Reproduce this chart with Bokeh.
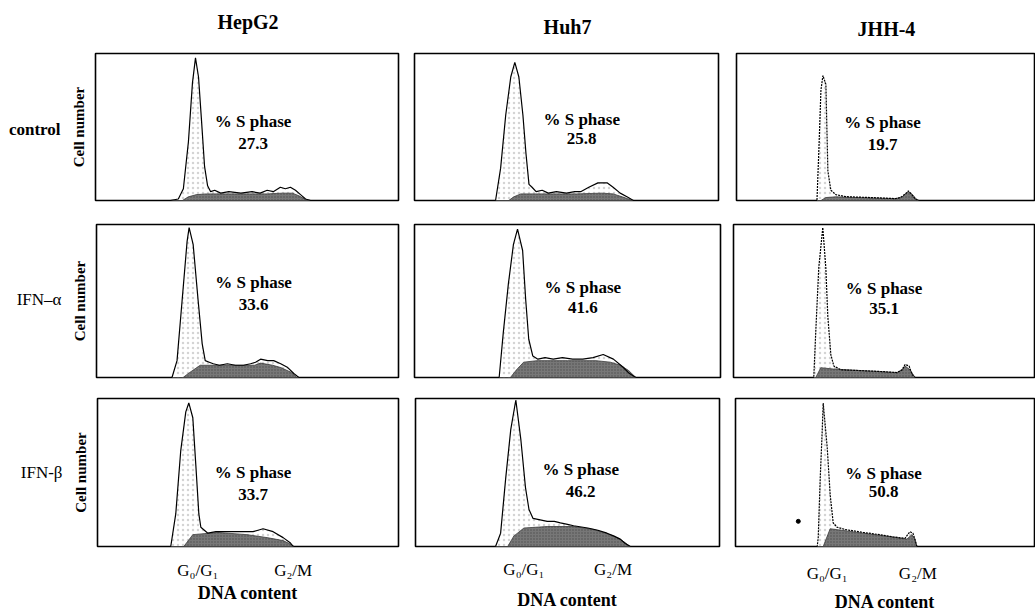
from bokeh.plotting import figure
from bokeh.layouts import row, column
from bokeh.models import FixedTicker, Range1d, LinearAxis, Label
from bokeh.embed import file_html
from bokeh.resources import INLINE

# ---------------- data ----------------
cell_lines = ["HepG2", "Huh7", "JHH-4"]
treatments = ["control", "IFN–α", "IFN-β"]
s_phase_pct = [[27.3, 25.8, 19.7],
               [33.6, 41.6, 35.1],
               [33.7, 46.2, 50.8]]
tick_labels = ["G₀/G₁", "G₂/M"]
g1_channel = [100, 107, 92]      # G0/G1 tick, per cell line
g2m_channel = [195, 195, 183]    # G2/M tick, per cell line
y_title = "Cell number"
x_title = "DNA content"
s_title = "% S phase"

# DNA content (channel) , cell number (% of panel max)
hepg2_control_total = [(0, 0), (74, 0), (82, 1), (87, 8), (92, 40), (96, 80), (99, 97), (102, 84), (105, 54),
                       (108, 23), (111, 10), (114, 6), (118, 7), (124, 5), (132, 6), (144, 5), (155, 6), (163, 5),
                       (170, 7), (176, 6), (183, 9), (188, 8), (193, 9), (198, 7), (203, 4), (208, 1), (213, 0), (300, 0)]
hepg2_control_sphase = [(86, 0), (92, 2.5), (100, 4), (110, 4.5), (140, 4.5), (170, 4.5), (185, 5), (195, 5),
                        (202, 3), (208, 0.5), (212, 0)]
huh7_control_total = [(0, 0), (80, 0), (85, 22), (90, 58), (95, 84), (99, 94), (103, 84), (107, 58), (110, 32),
                      (113, 11), (116, 9), (120, 6), (126, 7), (132, 5), (140, 6), (150, 5), (158, 6), (164, 6),
                      (172, 9), (181, 12), (190, 12), (196, 9), (203, 5), (211, 2), (216, 0), (300, 0)]
huh7_control_sphase = [(93, 0), (98, 2.5), (105, 4.5), (130, 4.5), (160, 4.5), (185, 5), (196, 4.5), (205, 2.5),
                       (215, 0)]
jhh4_control_total = [(0, 0), (81, 0), (83, 36), (85, 75), (87, 85), (90, 79), (91, 49), (92, 20), (95, 7),
                      (100, 4), (110, 2.6), (135, 2), (160, 1.3), (165, 2), (170, 4.5), (173, 6.5), (176, 4.5),
                      (180, 1), (183, 0), (300, 0)]
jhh4_control_sphase = [(85, 0), (90, 2), (100, 2.5), (130, 1.8), (160, 1.3), (166, 2), (170, 4.3), (173, 6),
                       (177, 4), (181, 1), (184, 0)]

hepg2_ifna_total = [(0, 0), (75, 0), (80, 11), (85, 50), (90, 89), (92, 98), (96, 87), (101, 50), (105, 22),
                    (108, 11), (112, 10), (116, 9), (122, 8), (130, 9), (138, 8), (146, 8), (153, 9), (158, 10),
                    (163, 12), (170, 11), (176, 11), (183, 9), (190, 6.5), (196, 2.6), (201, 0), (300, 0)]
hepg2_ifna_sphase = [(86, 0), (92, 3), (103, 8), (120, 8), (140, 8), (157, 8), (163, 9.4), (175, 8), (183, 6.5),
                     (193, 3.5), (199, 0)]
huh7_ifna_total = [(0, 0), (83, 0), (87, 29), (92, 61), (97, 87), (101, 97), (106, 83), (109, 51), (112, 25),
                   (116, 14), (121, 12), (128, 13), (136, 12), (145, 13), (155, 12), (165, 12), (175, 13),
                   (185, 15), (195, 12), (204, 7), (210, 3), (217, 0), (300, 0)]
huh7_ifna_sphase = [(94, 0), (100, 5), (107, 10), (120, 11), (150, 11), (178, 11), (192, 10), (202, 8),
                    (210, 4.5), (217, 0)]
jhh4_ifna_total = [(0, 0), (80, 0), (82, 30), (85, 72), (89, 98), (92, 72), (94, 40), (97, 15), (100, 7.5),
                   (107, 5), (120, 4.7), (134, 4.3), (150, 3.8), (163, 3.2), (168, 5), (171, 8.5), (175, 7.5),
                   (178, 2), (181, 0), (300, 0)]
jhh4_ifna_sphase = [(82, 0), (87, 6.4), (100, 5.5), (134, 4.3), (163, 3.2), (168, 5), (171, 7.5), (176, 5),
                    (181, 0)]

hepg2_ifnb_total = [(0, 0), (73, 0), (78, 22), (83, 65), (88, 91), (91, 97), (95, 87), (98, 55), (101, 22),
                    (103, 13), (110, 9), (118, 10), (128, 10), (138, 10), (148, 10), (155, 10), (160, 11),
                    (165, 12), (175, 10), (185, 6), (192, 2.6), (195, 0), (300, 0)]
hepg2_ifnb_sphase = [(86, 0), (95, 8), (120, 9.5), (149, 8), (169, 6), (185, 4), (194, 1), (196, 0)]
huh7_ifnb_total = [(0, 0), (79, 0), (84, 9), (89, 46), (94, 79), (99, 99), (104, 72), (108.5, 40), (112, 25),
                   (116, 19), (123, 18), (130, 17), (137, 17), (143, 16), (150, 15), (156, 14), (170, 12.5),
                   (180, 11), (189, 9), (196, 7), (202, 5), (207, 2), (212, 0), (300, 0)]
huh7_ifnb_sphase = [(91, 0), (97, 7), (107, 12.5), (130, 13.5), (156, 13.5), (176, 11.5), (192, 8), (202, 5),
                    (212, 0)]
jhh4_ifnb_total = [(0, 0), (82, 0), (83, 6), (85, 46), (87, 78), (88, 97), (92, 67), (95, 35), (98, 16),
                   (102, 13), (110, 11.5), (128, 9.5), (145, 8), (158, 6.5), (170, 5.5), (175, 10), (178, 9),
                   (180, 5), (182, 0), (300, 0)]
jhh4_ifnb_sphase = [(88, 0), (95, 12), (128, 9), (158, 6.4), (172, 5), (177, 8), (180, 5), (182, 0)]
jhh4_ifnb_debris = [(63, 17)]

totals = [[hepg2_control_total, huh7_control_total, jhh4_control_total],
          [hepg2_ifna_total, huh7_ifna_total, jhh4_ifna_total],
          [hepg2_ifnb_total, huh7_ifnb_total, jhh4_ifnb_total]]
sphases = [[hepg2_control_sphase, huh7_control_sphase, jhh4_control_sphase],
           [hepg2_ifna_sphase, huh7_ifna_sphase, jhh4_ifna_sphase],
           [hepg2_ifnb_sphase, huh7_ifnb_sphase, jhh4_ifnb_sphase]]

# ---------------- layout (pixels) ----------------
SERIF = "Liberation Serif"
COLS = [(0, 406), (406, 727), (727, 1035)]
ROWS = [(0, 215), (215, 387), (387, 614)]
FRAMES = [[(95, 398, 51, 200), (414, 718, 53, 207), (736, 1034, 52, 206)],
          [(96, 398, 223, 377), (414, 720, 223, 379), (733, 1034, 224, 380)],
          [(97, 398, 393, 548), (415, 719, 398, 548), (735, 1034, 396, 548)]]
# position of the "% S phase" text: (x channel, y of line 1, y of line 2)
S_TEXT_POS = [[(156, 54, 39), (165, 55, 42), (147, 53, 38)],
              [(156, 62, 48), (165, 59, 45.5), (150, 58, 45)],
              [(155, 50, 35), (163, 52, 37), (148.5, 49, 37)]]
TITLE_X = [151, 151, 151]
TITLE_STANDOFF = [21, 16, 14]
ROW_LABEL_Y = [48.3, 51.3, 50.0]
ROW_LABEL_STYLE = ["bold", "normal", "normal"]
TICK_STANDOFF = [14, 13, 17]
XLABEL_STANDOFF = [0, 8, 6]
X_RANGE = (0, 300)
Y_RANGE = (0, 100)


def bare_axis(ax):
    ax.axis_line_color = None
    ax.major_tick_line_color = None
    ax.minor_tick_line_color = None
    ax.major_tick_out = 0
    ax.major_tick_in = 0


def make_panel(r, c):
    c0, c1 = COLS[c]
    r0, r1 = ROWS[r]
    fl, fr, ft, fb = FRAMES[r][c]
    p = figure(width=c1 - c0, height=r1 - r0,
               x_range=Range1d(*X_RANGE), y_range=Range1d(*Y_RANGE),
               output_backend="svg", toolbar_location=None,
               x_axis_location="below" if r == 2 else None,
               y_axis_location="left" if c == 0 else None,
               min_border_left=fl - c0, min_border_right=c1 - fr,
               min_border_top=ft - r0, min_border_bottom=r1 - fb)
    p.grid.visible = False
    p.outline_line_color = "black"
    p.outline_line_width = 1.6
    p.background_fill_color = "white"
    p.border_fill_color = "white"

    total = totals[r][c]
    sph = sphases[r][c]
    tx = [v[0] for v in total]
    ty = [v[1] for v in total]
    sx = [v[0] for v in sph]
    sy = [v[1] for v in sph]
    dashed = (c == 2)

    p.patch(tx, ty, fill_color="white", line_color=None,
            hatch_pattern="dot", hatch_color="#a0a0a0", hatch_scale=5, hatch_weight=1, hatch_alpha=0.45)
    p.patch(sx, sy, fill_color="#777777", line_color="#3c3c3c", line_width=0.8,
            hatch_pattern="dot", hatch_color="#444444", hatch_scale=3, hatch_weight=1, hatch_alpha=0.8)
    p.line(tx, ty, line_color="black", line_width=1.2,
           line_dash="2 1" if dashed else "solid")
    if r == 2 and c == 2:
        p.scatter([v[0] for v in jhh4_ifnb_debris], [v[1] for v in jhh4_ifnb_debris],
                  size=4, color="black")

    xs, y1, y2 = S_TEXT_POS[r][c]
    for txt, yy in ((s_title, y1), (f"{s_phase_pct[r][c]:.1f}", y2)):
        p.add_layout(Label(x=xs, y=yy, text=txt, text_align="center", text_baseline="middle",
                           text_font=SERIF, text_font_size="17px", text_font_style="bold",
                           text_color="black"))

    if r == 0:
        # cell-line title as a tick label on an axis above the panel
        ta = LinearAxis(ticker=FixedTicker(ticks=[TITLE_X[c]]),
                        major_label_overrides={TITLE_X[c]: cell_lines[c]})
        bare_axis(ta)
        ta.major_label_standoff = TITLE_STANDOFF[c]
        ta.major_label_text_font = SERIF
        ta.major_label_text_font_size = "20px"
        ta.major_label_text_font_style = "bold"
        ta.major_label_text_color = "black"
        p.add_layout(ta, "above")
    if c == 0:
        ya = p.yaxis[0]
        ya.ticker = FixedTicker(ticks=[])
        bare_axis(ya)
        ya.major_label_standoff = 0
        ya.axis_label = y_title
        ya.axis_label_text_font = SERIF
        ya.axis_label_text_font_size = "15px"
        ya.axis_label_text_font_style = "bold"
        ya.axis_label_text_color = "black"
        ya.axis_label_standoff = 9
        # row label (treatment) as a horizontal tick label on an outer axis
        ra = LinearAxis(ticker=FixedTicker(ticks=[ROW_LABEL_Y[r]]),
                        major_label_overrides={ROW_LABEL_Y[r]: treatments[r]})
        bare_axis(ra)
        ra.major_label_standoff = 7
        ra.major_label_text_font = SERIF
        ra.major_label_text_font_size = "17px"
        ra.major_label_text_font_style = ROW_LABEL_STYLE[r]
        ra.major_label_text_color = "black"
        p.add_layout(ra, "left")
    if r == 2:
        xa = p.xaxis[0]
        xa.ticker = FixedTicker(ticks=[g1_channel[c], g2m_channel[c]])
        xa.major_label_overrides = {g1_channel[c]: tick_labels[0], g2m_channel[c]: tick_labels[1]}
        bare_axis(xa)
        xa.major_label_standoff = TICK_STANDOFF[c]
        xa.major_label_text_font = SERIF
        xa.major_label_text_font_size = "17px"
        xa.major_label_text_color = "black"
        xa.axis_label = x_title
        xa.axis_label_text_font = SERIF
        xa.axis_label_text_font_size = "18px"
        xa.axis_label_text_font_style = "bold"
        xa.axis_label_text_color = "black"
        xa.axis_label_standoff = XLABEL_STANDOFF[c]
    return p


layout = column([row([make_panel(r, c) for c in range(3)]) for r in range(3)])
open("out.html", "w").write(file_html(layout, INLINE))
